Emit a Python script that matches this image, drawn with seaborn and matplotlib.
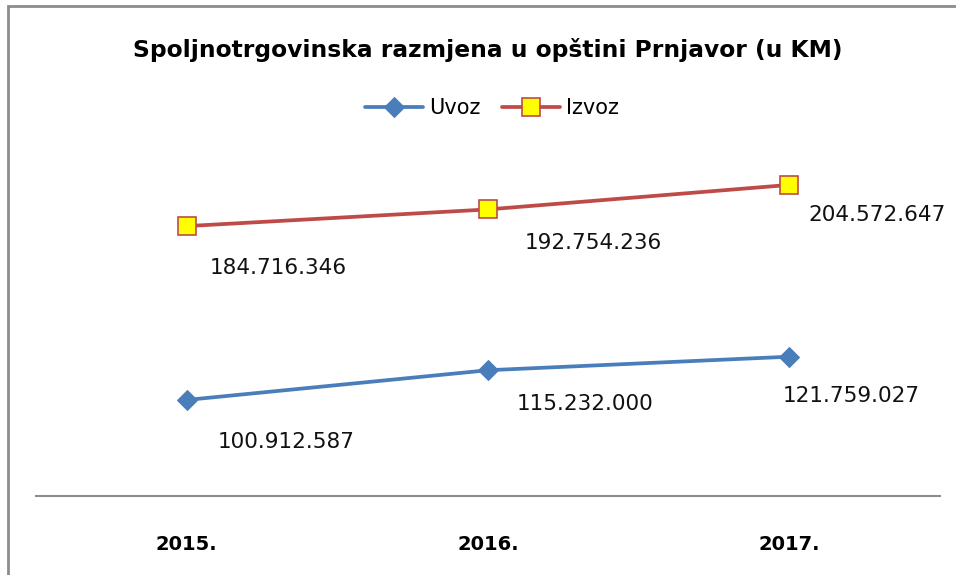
import pandas as pd
import seaborn as sns
import matplotlib.pyplot as plt
from matplotlib.patches import Rectangle

godine = ['2015.', '2016.', '2017.']
uvoz = [100912587, 115232000, 121759027]
izvoz = [184716346, 192754236, 204572647]
uvoz_txt = ['100.912.587', '115.232.000', '121.759.027']
izvoz_txt = ['184.716.346', '192.754.236', '204.572.647']

plava = '#4A7EBB'
crvena = '#BE4B48'

sns.set_style('white')
plt.rcParams['font.family'] = ['DejaVu Sans']
plt.rcParams['text.color'] = 'black'
plt.rcParams['xtick.color'] = 'black'

fig = plt.figure(figsize=(9.56, 5.75), dpi=100)
ax = fig.add_axes([36/956, 1 - 496/575, 904/956, 346/575])

base = pd.DataFrame({'godina': godine, 'Uvoz': uvoz, 'Izvoz': izvoz})

sns.lineplot(data=base, x='godina', y='Uvoz', ax=ax, color=plava, linewidth=2.7,
             marker='D', markersize=10, markeredgecolor=plava, label='Uvoz', sort=False)
sns.lineplot(data=base, x='godina', y='Izvoz', ax=ax, color=crvena, linewidth=2.7,
             marker='s', markersize=13.5, markerfacecolor='#FFFF00', markeredgecolor=crvena,
             markeredgewidth=1.2, label='Izvoz', sort=False)

# pomaci natpisa u pikselima (desno, dolje)
pomak_uvoz = [(31, -42), (29, -34), (-7, -39)]
pomak_izvoz = [(23, -42), (37, -34), (19, -30)]
for i in range(3):
    ax.annotate(uvoz_txt[i], (i, uvoz[i]), textcoords='offset pixels',
                xytext=pomak_uvoz[i], ha='left', va='center', fontsize=15.5, color='#111111')
    ax.annotate(izvoz_txt[i], (i, izvoz[i]), textcoords='offset pixels',
                xytext=pomak_izvoz[i], ha='left', va='center', fontsize=15.5, color='#111111')

ax.set_xlim(-0.5, 2.5)
ax.set_ylim(54.6e6, 221.4e6)
ax.set_yticks([])
ax.set_xlabel('')
ax.set_ylabel('')
ax.tick_params(axis='x', length=0, pad=28)
for lbl in ax.get_xticklabels():
    lbl.set_fontweight('bold')
    lbl.set_fontsize(14)
for s in ['top', 'left', 'right']:
    ax.spines[s].set_visible(False)
ax.spines['bottom'].set_color('#8C8C8C')
ax.spines['bottom'].set_linewidth(1.5)
ax.patch.set_alpha(0)

ax.legend(loc='center', bbox_to_anchor=(492/956, 1 - 108/575), bbox_transform=fig.transFigure,
          ncol=2, frameon=False, fontsize=15, handlelength=2.8, columnspacing=1.0,
          handletextpad=0.3)

fig.text(488/956, 1 - 50/575, 'Spoljnotrgovinska razmjena u opštini Prnjavor (u KM)',
         ha='center', va='center', fontsize=16.8, fontweight='bold', color='black')

okvir = Rectangle((8/956, -0.1), 1.0, 1.1 - 6/575, transform=fig.transFigure,
                  fill=False, edgecolor='#8C8C8C', linewidth=2)
fig.patches.append(okvir)

fig.savefig('out.png', dpi=100)
